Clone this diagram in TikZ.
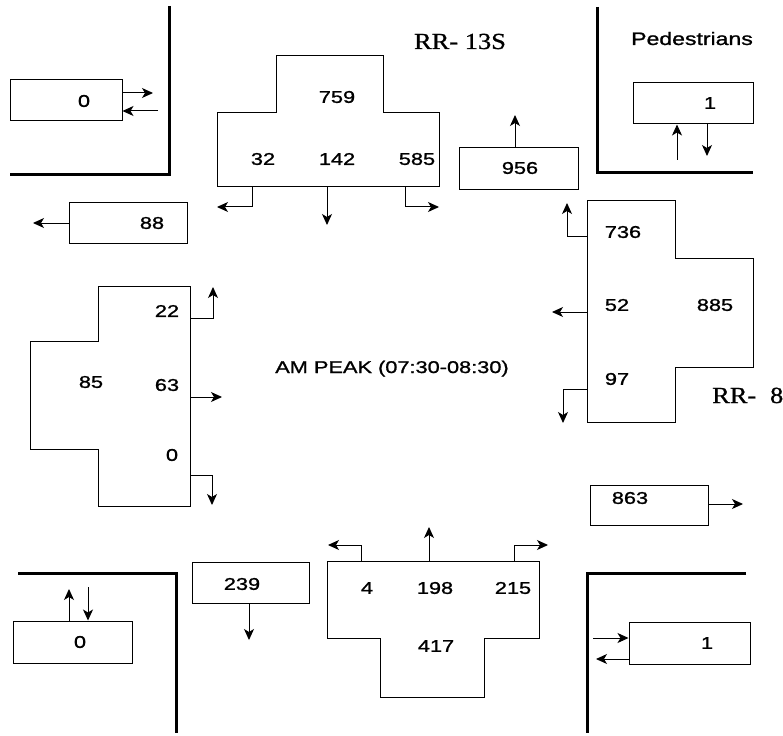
\documentclass[tikz,border=0pt]{standalone}
\usepackage{fontspec}
\setmainfont[FakeStretch=1.28,FakeBold=1.2]{Liberation Sans}
\newfontfamily\rrfont[FakeStretch=1.15,FakeBold=0.9]{Liberation Serif}
\usetikzlibrary{arrows.meta}
\begin{document}
\begin{tikzpicture}[x=1pt,y=-1pt,
  wall/.style={line width=3pt},
  box/.style={draw, line width=1pt, inner sep=0pt},
  num/.style={font=\fontsize{17}{20}\selectfont, inner sep=0pt},
  arr/.style={line width=1pt, -{Stealth[length=11pt,width=10pt,inset=3pt]}},
  appr/.style={draw, line width=1pt},
  rr/.style={font=\rrfont\fontsize{23}{26}\selectfont, inner sep=0pt}]
\useasboundingbox (0,0) rectangle (783,735);

% walls
\draw[wall] (169,6) -- (169,175) -- (10,175);
\draw[wall] (597,7) -- (597,173) -- (753,173);
\draw[wall] (18,573) -- (176,573) -- (176,733);
\draw[wall] (746,573) -- (587,573) -- (587,733);

% titles
\node[rr, anchor=base] (tN) at (460,49) {RR- 13S};
\node[rr, anchor=base west] (tE) at (712,403) {RR-\hspace{0.6em}8};
\node[font=\fontsize{18}{21}\selectfont, inner sep=0pt, anchor=base] (ped) at (692,45) {Pedestrians};
\node[num, anchor=base] (peak) at (392,373) {AM PEAK (07:30-08:30)};

% boxes
\node[box, minimum width=112pt, minimum height=41pt] (pTL) at (66,100.5) {};
\node[box, minimum width=120pt, minimum height=41pt] (pTR) at (693,103.5) {};
\node[box, minimum width=119pt, minimum height=42pt] (bN) at (518.5,169) {};
\node[box, minimum width=118pt, minimum height=40pt] (bW) at (128,223) {};
\node[box, minimum width=118pt, minimum height=40pt] (bE) at (649,505) {};
\node[box, minimum width=117pt, minimum height=41pt] (bS) at (250.5,582.5) {};
\node[box, minimum width=119pt, minimum height=42pt] (pBL) at (72.5,642) {};
\node[box, minimum width=121pt, minimum height=42pt] (pBR) at (689.5,643) {};

\node[num] (lTL) at (84,101) {0};
\node[num] (lTR) at (710,103) {1};
\node[num] (lN) at (520,168) {956};
\node[num] (lW) at (152,223) {88};
\node[num] (lE) at (630,498) {863};
\node[num] (lS) at (242,584) {239};
\node[num] (lBL) at (80,642) {0};
\node[num] (lBR) at (707,643) {1};

% box arrows
\coordinate (cA) at (153,93);
\coordinate (cB) at (158,111);
\draw[arr] (pTL.east |- cA) -- (cA);
\draw[arr] (cB) -- (pTL.east |- cB);
\coordinate (cC) at (677,160);
\coordinate (cD) at (707,156);
\draw[arr] (cC) -- (cC |- pTR.south);
\draw[arr] (cD |- pTR.south) -- (cD);
\coordinate (cE) at (515,115);
\draw[arr] (cE |- bN.north) -- (cE);
\coordinate (cF) at (33,223);
\draw[arr] (bW.west) -- (cF);
\coordinate (cG) at (743,504);
\draw[arr] (bE.east |- cG) -- (cG);
\coordinate (cH) at (249,640);
\draw[arr] (cH |- bS.south) -- (cH);
\coordinate (cI) at (69,589);
\coordinate (cJ) at (88,587);
\draw[arr] (cI |- pBL.north) -- (cI);
\draw[arr] (cJ) -- (cJ |- pBL.north);
\coordinate (cK) at (593,638);
\coordinate (cL) at (596,659);
\draw[arr] (cK) -- (cK -| pBR.west);
\draw[arr] (cL -| pBR.west) -- (cL);

% north approach
\draw[appr] (276,56) -- (383,56) -- (383,113) -- (439,113) -- (439,187) -- (217,187) -- (217,113) -- (276,113) -- cycle;
\draw[arr] (252,187) -- (252,207) -- (217,207);
\draw[arr] (327,187) -- (327,225);
\draw[arr] (405,187) -- (405,207) -- (439,207);
\node[num] (n1) at (337,97) {759};
\node[num] (n2) at (263,159) {32};
\node[num] (n3) at (337,159) {142};
\node[num] (n4) at (417,159) {585};

% east approach
\draw[appr] (587,201) -- (675,201) -- (675,258) -- (753,258) -- (753,367) -- (675,367) -- (675,422) -- (587,422) -- cycle;
\draw[arr] (587,236) -- (567,236) -- (567,203);
\draw[arr] (587,312) -- (552,312);
\draw[arr] (587,389) -- (563,389) -- (563,423);
\node[num] (e1) at (623,232) {736};
\node[num] (e2) at (617,305) {52};
\node[num] (e3) at (715,305) {885};
\node[num] (e4) at (617,379) {97};

% west approach
\draw[appr] (98,286) -- (190,286) -- (190,506) -- (98,506) -- (98,449) -- (30,449) -- (30,341) -- (98,341) -- cycle;
\draw[arr] (190,318) -- (213,318) -- (213,287);
\draw[arr] (190,397) -- (222,397);
\draw[arr] (190,475) -- (212,475) -- (212,505);
\node[num] (w1) at (167,311) {22};
\node[num] (w2) at (91,382) {85};
\node[num] (w3) at (167,385) {63};
\node[num] (w4) at (172,455) {0};

% south approach
\draw[appr] (327,561) -- (539,561) -- (539,638) -- (484,638) -- (484,697) -- (380,697) -- (380,638) -- (327,638) -- cycle;
\draw[arr] (361,561) -- (361,545) -- (328,545);
\draw[arr] (429,561) -- (429,527);
\draw[arr] (514,561) -- (514,545) -- (548,545);
\node[num] (s1) at (367,588) {4};
\node[num] (s2) at (435,588) {198};
\node[num] (s3) at (513,588) {215};
\node[num] (s4) at (436,646) {417};
\end{tikzpicture}
\end{document}
